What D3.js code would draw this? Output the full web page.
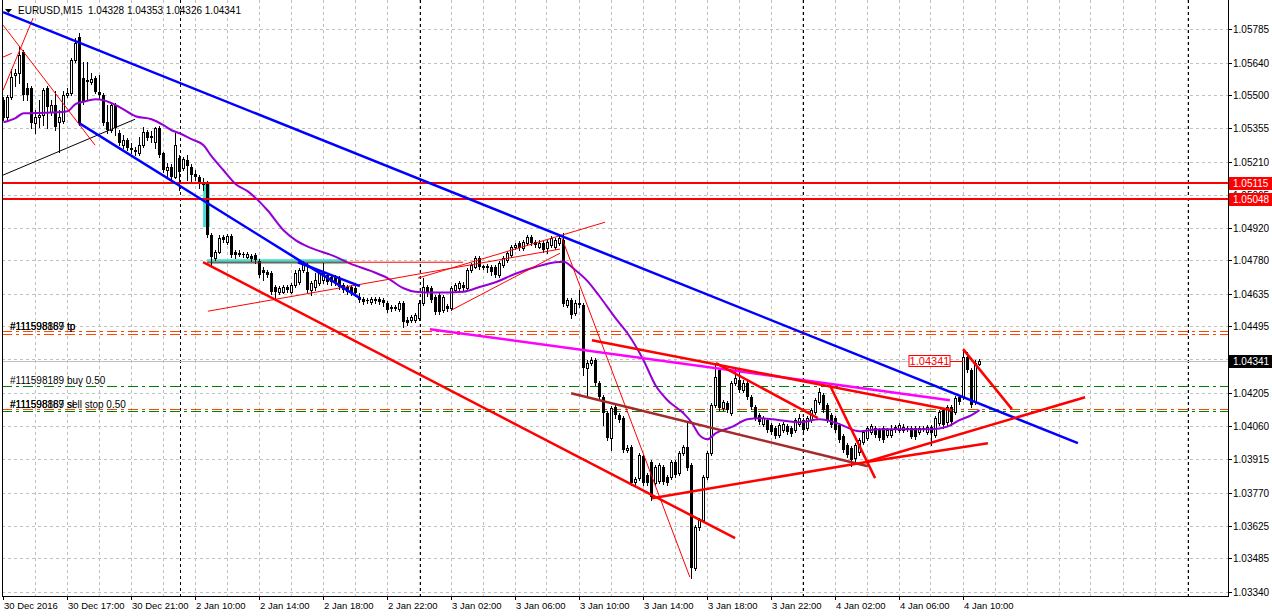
<!DOCTYPE html>
<html><head><meta charset="utf-8">
<script src="https://cdn.jsdelivr.net/npm/d3@7"></script>
<style>
body{margin:0;background:#fff}
svg{display:block}
text{font-family:"Liberation Sans",Arial,sans-serif;font-size:10px;fill:#000}
</style>
</head><body>
<svg id="chart" width="1272" height="616"></svg>
<script>
// ---------- DATA ----------
const symbolTitle = "EURUSD,M15  1.04328 1.04353 1.04326 1.04341";
const open = [1.05477,1.05403,1.05490,1.05586,1.05594,1.05686,1.05529,1.05529,1.05377,1.05403,1.05412,1.05529,1.05425,1.05455,1.05381,1.05386,1.05499,1.05507,1.05651,1.05751,
1.05573,1.05560,1.05555,1.05573,1.05512,1.05499,1.05381,1.05346,1.05455,1.05333,1.05281,1.05303,1.05268,1.05259,1.05246,1.05281,1.05338,1.05316,1.05294,1.05355,
1.05246,1.05172,1.05186,1.05142,1.05225,1.05181,1.05216,1.05186,1.05155,1.05142,1.05120,1.05120,1.04890,1.04790,1.04816,1.04881,1.04859,1.04885,1.04816,1.04807,
1.04807,1.04794,1.04798,1.04803,1.04777,1.04737,1.04729,1.04724,1.04664,1.04642,1.04642,1.04664,1.04642,1.04672,1.04685,1.04737,1.04729,1.04650,1.04664,1.04681,
1.04694,1.04716,1.04707,1.04707,1.04703,1.04672,1.04664,1.04664,1.04659,1.04620,1.04611,1.04607,1.04598,1.04611,1.04611,1.04607,1.04594,1.04577,1.04572,1.04568,
1.04594,1.04520,1.04520,1.04520,1.04529,1.04594,1.04664,1.04659,1.04620,1.04629,1.04564,1.04581,1.04572,1.04650,1.04659,1.04672,1.04659,1.04737,1.04751,1.04790,
1.04751,1.04755,1.04751,1.04751,1.04716,1.04759,1.04781,1.04803,1.04838,1.04855,1.04833,1.04855,1.04881,1.04859,1.04838,1.04855,1.04833,1.04846,1.04838,1.04855,
1.04868,1.04585,1.04607,1.04550,1.04594,1.04585,1.04311,1.04333,1.04346,1.04246,1.04185,1.04115,1.04007,1.04142,1.04107,1.04094,1.03955,1.03968,1.03815,1.03833,
1.03928,1.03846,1.03902,1.03811,1.03820,1.03881,1.03837,1.03837,1.03902,1.03854,1.03941,1.03968,1.03889,1.03441,1.03620,1.03650,1.03837,1.03941,1.04150,1.04302,
1.04137,1.04159,1.04115,1.04246,1.04259,1.04215,1.04246,1.04185,1.04142,1.04107,1.04068,1.04085,1.04063,1.04050,1.04020,1.04042,1.04059,1.04050,1.04042,1.04068,
1.04085,1.04050,1.04085,1.04120,1.04163,1.04194,1.04150,1.04107,1.04094,1.04063,1.04015,1.03976,1.03963,1.03920,1.03946,1.03989,1.04007,1.04033,1.04050,1.04042,
1.04050,1.04020,1.04020,1.04050,1.04042,1.04042,1.04046,1.04050,1.04050,1.04033,1.04046,1.04033,1.04055,1.04020,1.04072,1.04129,1.04076,1.04142,1.04120,1.04185,
1.04185,1.04359,1.04302,1.04163,1.04328];
const high = [1.05490,1.05499,1.05612,1.05612,1.05712,1.05694,1.05551,1.05538,1.05433,1.05477,1.05529,1.05538,1.05477,1.05516,1.05433,1.05516,1.05529,1.05660,1.05747,1.05768,
1.05642,1.05642,1.05594,1.05581,1.05586,1.05507,1.05455,1.05464,1.05464,1.05346,1.05325,1.05312,1.05290,1.05273,1.05316,1.05360,1.05346,1.05342,1.05360,1.05364,
1.05251,1.05203,1.05199,1.05333,1.05238,1.05229,1.05238,1.05199,1.05172,1.05151,1.05138,1.05125,1.04898,1.04824,1.04890,1.04890,1.04894,1.04894,1.04824,1.04824,
1.04816,1.04816,1.04807,1.04811,1.04785,1.04751,1.04737,1.04733,1.04672,1.04668,1.04672,1.04672,1.04681,1.04737,1.04746,1.04777,1.04768,1.04690,1.04724,1.04733,
1.04768,1.04724,1.04716,1.04716,1.04711,1.04681,1.04672,1.04672,1.04668,1.04637,1.04620,1.04616,1.04620,1.04620,1.04620,1.04616,1.04603,1.04585,1.04585,1.04603,
1.04603,1.04533,1.04542,1.04550,1.04607,1.04703,1.04672,1.04668,1.04629,1.04637,1.04629,1.04590,1.04668,1.04681,1.04690,1.04685,1.04746,1.04768,1.04798,1.04798,
1.04759,1.04764,1.04759,1.04759,1.04777,1.04798,1.04820,1.04846,1.04855,1.04864,1.04868,1.04890,1.04890,1.04868,1.04868,1.04864,1.04868,1.04885,1.04877,1.04885,
1.04898,1.04616,1.04616,1.04607,1.04650,1.04594,1.04346,1.04359,1.04355,1.04255,1.04194,1.04124,1.04146,1.04150,1.04115,1.04102,1.03976,1.03976,1.03837,1.03941,
1.03937,1.03854,1.03911,1.03889,1.03898,1.03889,1.03846,1.03911,1.03911,1.03950,1.03976,1.04072,1.03898,1.03628,1.03659,1.03846,1.03950,1.04159,1.04324,1.04311,
1.04172,1.04168,1.04255,1.04311,1.04311,1.04259,1.04255,1.04194,1.04150,1.04115,1.04102,1.04094,1.04072,1.04059,1.04072,1.04076,1.04068,1.04059,1.04094,1.04111,
1.04094,1.04102,1.04137,1.04181,1.04224,1.04202,1.04159,1.04115,1.04102,1.04072,1.04024,1.03985,1.03972,1.03985,1.04007,1.04042,1.04059,1.04068,1.04059,1.04050,
1.04059,1.04050,1.04063,1.04063,1.04072,1.04068,1.04059,1.04059,1.04059,1.04059,1.04059,1.04063,1.04063,1.04102,1.04129,1.04137,1.04150,1.04150,1.04189,1.04194,
1.04394,1.04381,1.04311,1.04346,1.04353];
const low = [1.05390,1.05390,1.05481,1.05538,1.05551,1.05477,1.05477,1.05355,1.05333,1.05360,1.05368,1.05355,1.05412,1.05346,1.05251,1.05377,1.05490,1.05499,1.05642,1.05368,
1.05460,1.05477,1.05547,1.05507,1.05486,1.05368,1.05333,1.05338,1.05325,1.05281,1.05268,1.05259,1.05246,1.05238,1.05238,1.05273,1.05303,1.05294,1.05268,1.05229,
1.05164,1.05142,1.05133,1.05138,1.05085,1.05172,1.05129,1.05120,1.05129,1.05094,1.05085,1.04881,1.04759,1.04781,1.04811,1.04859,1.04851,1.04794,1.04790,1.04798,
1.04794,1.04790,1.04777,1.04768,1.04707,1.04694,1.04707,1.04633,1.04607,1.04633,1.04637,1.04642,1.04637,1.04664,1.04677,1.04729,1.04642,1.04629,1.04650,1.04672,
1.04681,1.04677,1.04672,1.04672,1.04655,1.04642,1.04633,1.04629,1.04624,1.04598,1.04590,1.04594,1.04590,1.04594,1.04590,1.04581,1.04555,1.04559,1.04563,1.04559,
1.04490,1.04498,1.04511,1.04511,1.04520,1.04585,1.04624,1.04598,1.04546,1.04546,1.04555,1.04559,1.04563,1.04642,1.04650,1.04650,1.04650,1.04729,1.04746,1.04742,
1.04742,1.04729,1.04716,1.04707,1.04707,1.04751,1.04772,1.04794,1.04829,1.04825,1.04825,1.04846,1.04846,1.04838,1.04833,1.04816,1.04811,1.04838,1.04829,1.04846,
1.04581,1.04577,1.04529,1.04542,1.04577,1.04281,1.04194,1.04324,1.04237,1.04176,1.04063,1.03998,1.03955,1.04094,1.04076,1.03946,1.03946,1.03802,1.03802,1.03824,
1.03802,1.03802,1.03737,1.03802,1.03811,1.03807,1.03802,1.03828,1.03837,1.03846,1.03933,1.03868,1.03398,1.03433,1.03607,1.03641,1.03828,1.03933,1.04142,1.04129,
1.04129,1.04120,1.04107,1.04237,1.04207,1.04207,1.04176,1.04133,1.04085,1.04068,1.04059,1.04033,1.04024,1.04007,1.04011,1.04033,1.04024,1.04015,1.04033,1.04059,
1.04033,1.04042,1.04076,1.04111,1.04155,1.04120,1.04076,1.04055,1.04033,1.03989,1.03946,1.03924,1.03885,1.03902,1.03933,1.03981,1.03998,1.04024,1.04011,1.03998,
1.03989,1.04011,1.04011,1.04033,1.04033,1.04033,1.04037,1.04007,1.04002,1.04024,1.04037,1.04024,1.03976,1.04011,1.04063,1.04050,1.04063,1.04063,1.04111,1.04155,
1.04176,1.04294,1.04142,1.04155,1.04326];
const close = [1.05399,1.05490,1.05577,1.05594,1.05673,1.05499,1.05499,1.05377,1.05403,1.05412,1.05520,1.05447,1.05455,1.05360,1.05403,1.05499,1.05507,1.05651,1.05725,1.05377,
1.05468,1.05564,1.05568,1.05512,1.05499,1.05377,1.05346,1.05455,1.05355,1.05290,1.05303,1.05268,1.05259,1.05251,1.05281,1.05338,1.05312,1.05320,1.05355,1.05238,
1.05172,1.05186,1.05142,1.05281,1.05164,1.05220,1.05190,1.05151,1.05142,1.05116,1.05107,1.04890,1.04794,1.04816,1.04877,1.04868,1.04885,1.04803,1.04803,1.04811,
1.04803,1.04807,1.04785,1.04781,1.04716,1.04724,1.04716,1.04642,1.04642,1.04659,1.04664,1.04650,1.04672,1.04724,1.04737,1.04768,1.04650,1.04681,1.04694,1.04724,
1.04724,1.04685,1.04685,1.04681,1.04664,1.04650,1.04642,1.04637,1.04637,1.04607,1.04598,1.04603,1.04611,1.04603,1.04598,1.04594,1.04563,1.04568,1.04577,1.04594,
1.04511,1.04507,1.04533,1.04542,1.04594,1.04664,1.04642,1.04607,1.04555,1.04555,1.04620,1.04568,1.04659,1.04672,1.04681,1.04659,1.04737,1.04759,1.04790,1.04751,
1.04755,1.04746,1.04729,1.04716,1.04768,1.04790,1.04811,1.04838,1.04846,1.04833,1.04859,1.04881,1.04855,1.04846,1.04855,1.04825,1.04859,1.04877,1.04868,1.04877,
1.04590,1.04607,1.04542,1.04594,1.04585,1.04311,1.04333,1.04346,1.04246,1.04185,1.04115,1.04007,1.04137,1.04107,1.04085,1.03955,1.03963,1.03811,1.03828,1.03933,
1.03811,1.03811,1.03750,1.03881,1.03889,1.03815,1.03811,1.03902,1.03846,1.03941,1.03968,1.03876,1.03441,1.03620,1.03650,1.03837,1.03941,1.04150,1.04272,1.04137,
1.04163,1.04129,1.04246,1.04268,1.04215,1.04246,1.04185,1.04142,1.04094,1.04076,1.04094,1.04042,1.04033,1.04015,1.04063,1.04068,1.04033,1.04024,1.04085,1.04094,
1.04042,1.04094,1.04129,1.04172,1.04207,1.04129,1.04085,1.04063,1.04042,1.03998,1.03955,1.03933,1.03911,1.03976,1.03998,1.04033,1.04050,1.04059,1.04020,1.04007,
1.03998,1.04042,1.04042,1.04055,1.04063,1.04055,1.04050,1.04011,1.04011,1.04050,1.04050,1.04055,1.04028,1.04094,1.04120,1.04063,1.04142,1.04076,1.04181,1.04163,
1.04359,1.04302,1.04150,1.04333,1.04341];

const timeTickBars = [0,16,32,48,64,80,96,112,128,144,160,176,192,208,224,240];
const timeTickLabels = ["30 Dec 2016","30 Dec 17:00","30 Dec 21:00","2 Jan 10:00","2 Jan 14:00","2 Jan 18:00","2 Jan 22:00","3 Jan 02:00","3 Jan 06:00","3 Jan 10:00","3 Jan 14:00","3 Jan 18:00","3 Jan 22:00","4 Jan 02:00","4 Jan 06:00","4 Jan 10:00"];
const priceTicks = [1.05785,1.05640,1.05500,1.05355,1.05210,1.05065,1.04920,1.04780,1.04635,1.04495,1.04350,1.04205,1.04060,1.03915,1.03770,1.03625,1.03485,1.03340];
const daySeparatorBars = [44,104,200,296];

// moving average, read at sampled bars
const maBars = [0,3,5,12,16,18,20,23,25,27,29,33,37,40,42,44,47,50,52,55,58,61,66,70,73,77,82,87,92,96,100,103,108,115,119,123,128,133,138,140,143,146,149,153,156,160,163,166,170,172,174,176,178,182,186,189,194,199,204,209,214,219,232,236,239,242,244];
const maValues = [1.05381,1.05399,1.05420,1.05423,1.05429,1.05460,1.05470,1.05481,1.05477,1.05464,1.05447,1.05407,1.05394,1.05368,1.05346,1.05333,1.05307,1.05281,1.05233,1.05172,1.05112,1.05081,1.04998,1.04911,1.04868,1.04833,1.04803,1.04764,1.04733,1.04703,1.04659,1.04644,1.04640,1.04644,1.04664,1.04685,1.04722,1.04751,1.04772,1.04774,1.04737,1.04690,1.04624,1.04529,1.04463,1.04346,1.04237,1.04172,1.04115,1.04076,1.04020,1.04002,1.04028,1.04055,1.04089,1.04094,1.04085,1.04076,1.04089,1.04068,1.04037,1.04046,1.04046,1.04057,1.04085,1.04107,1.04129];

// drawn objects: [bar1, price1, bar2, price2]
const blueTrendlines = [[-0.1,1.05860,268.6,1.03985],[18.9,1.05377,89.1,1.04616],[73.6,1.04772,89.1,1.04668]];
const redThickTrendlines = [[49.9,1.04772,182.9,1.03572],[147.1,1.04433,237.1,1.04128],[162.1,1.03746,215.4,1.03902],[215.4,1.03902,270.4,1.04185],[215.4,1.03902,246.1,1.03985],[178.1,1.04333,203.6,1.04094],[206.6,1.04237,217.9,1.03833],[239.9,1.04394,252.1,1.04133]];
const redThinTrendlines = [[139.6,1.04877,171.6,1.03402],[51.1,1.04559,139.1,1.04829],[103.6,1.04703,150.4,1.04946],[111.9,1.04563,139.1,1.04811],[50.9,1.04772,114.9,1.04772],[-0.1,1.05803,22.9,1.05281],[-0.1,1.05520,7.4,1.05834],[-0.1,1.05664,2.1,1.05681]];
const brownTrendlines = [[141.9,1.04202,216.1,1.03885]];
const magentaTrendlines = [[106.6,1.04481,236.6,1.04172]];
const blackTrendlines = [[-0.1,1.05151,32.9,1.05394]];
const cyanRectangles = [[49.9,1.05120,51.6,1.04925],[50.9,1.04785,85.9,1.04764]];
const redLevels = [1.05115,1.05048];
const tpLevels = [1.04472,1.04459];
const buyLevel = 1.04235;
const sellStopLevel = 1.04135;
const slLevel = 1.04126;
const bidPrice = 1.04341;
const priceLabelBar = 240;
const tpLabels = ["#111598189 tp","#111598867 tp"];
const buyLabel = "#111598189 buy 0.50";
const sellLabels = ["#111598189 sl","#111598867 sell stop 0.50"];

// ---------- DRAW ----------
const W = 1272, H = 616;
const plotL = 2, plotR = 1228, plotB = 596;
const svg = d3.select("#chart");
const x = d3.scaleLinear().domain([0, 300]).range([3.5, 1203.5]);
const y = d3.scaleLinear().domain([1.03340, 1.05785]).range([591.5, 29.3]);
const fmt = d3.format(".5f");

svg.append("defs").append("clipPath").attr("id","plot")
  .append("rect").attr("x",plotL).attr("y",0).attr("width",plotR-plotL).attr("height",plotB);

const g = svg.append("g").attr("clip-path","url(#plot)");

// grid
const gridBars = d3.range(8, 304, 8);
g.append("g").selectAll("line").data(gridBars).join("line")
  .attr("x1",d=>Math.round(x(d))-0.5).attr("x2",d=>Math.round(x(d))-0.5)
  .attr("y1",0).attr("y2",plotB)
  .style("stroke","#c0c0c0").attr("stroke-dasharray","3,3");
g.append("g").selectAll("line").data(priceTicks).join("line")
  .attr("x1",plotL).attr("x2",plotR)
  .attr("y1",d=>Math.round(y(d))+0.5).attr("y2",d=>Math.round(y(d))+0.5)
  .style("stroke","#c0c0c0").attr("stroke-dasharray","3,3");

// day separators
g.append("g").selectAll("line").data(daySeparatorBars).join("line")
  .attr("x1",d=>Math.round(x(d))+0.5).attr("x2",d=>Math.round(x(d))+0.5)
  .attr("y1",0).attr("y2",plotB)
  .style("stroke","#000").attr("stroke-dasharray","3,3");

// rectangles (background)
g.append("g").selectAll("rect").data(cyanRectangles).join("rect")
  .attr("x",d=>x(d[0])).attr("width",d=>x(d[2])-x(d[0]))
  .attr("y",d=>y(d[1])).attr("height",d=>y(d[3])-y(d[1]))
  .style("fill","#40e0d0");

// order lines
function hline(p, color, dash){
  const l = g.append("line").attr("x1",plotL).attr("x2",plotR)
   .attr("y1",Math.round(y(p))+0.5).attr("y2",Math.round(y(p))+0.5)
   .style("stroke",color).style("stroke-width",1);
  if (dash) l.attr("stroke-dasharray",dash);
}
tpLevels.forEach(p=>hline(p,"#ff4500","10,4,3,4"));
hline(buyLevel,"#008000","10,4,3,4");
hline(sellStopLevel,"#ff4500","10,4,3,4");
hline(slLevel,"#008000","10,4,3,4");
hline(bidPrice,"#c0c0c0",null);

// order labels
const lab = g.append("g");
tpLabels.forEach(t=>lab.append("text").attr("x",10).attr("y",Math.round(y(tpLevels[0]))-1).text(t));
lab.append("text").attr("x",10).attr("y",Math.round(y(buyLevel))-2).text(buyLabel);
sellLabels.forEach(t=>lab.append("text").attr("x",10).attr("y",Math.round(y(sellStopLevel))-1).text(t));

// candles
const idx = d3.range(close.length);
const cg = g.append("g").attr("shape-rendering","crispEdges");
cg.selectAll("line.w").data(idx).join("line").attr("class","w")
  .attr("x1",i=>Math.floor(x(i))+0.5).attr("x2",i=>Math.floor(x(i))+0.5)
  .attr("y1",i=>Math.round(y(high[i]))).attr("y2",i=>Math.round(y(low[i]))+1)
  .style("stroke","#000");
cg.selectAll("rect.b").data(idx).join("rect").attr("class","b")
  .attr("x",i=> close[i]>open[i] ? Math.floor(x(i))-0.5 : Math.floor(x(i))-1)
  .attr("width",i=> close[i]>open[i] ? 2 : 3)
  .attr("y",i=>{const t=Math.round(y(Math.max(open[i],close[i]))); return close[i]>open[i]? t+0.5 : t;})
  .attr("height",i=>Math.max(1, Math.abs(Math.round(y(open[i]))-Math.round(y(close[i])))))
  .style("fill",i=> close[i]>open[i] ? "#fff" : "#000")
  .style("stroke",i=> close[i]>open[i] ? "#000" : "none");

// horizontal red levels (drawn objects)
g.append("g").attr("shape-rendering","crispEdges").selectAll("rect").data(redLevels).join("rect")
  .attr("x",plotL).attr("width",plotR-plotL)
  .attr("y",d=>Math.round(y(d))-1).attr("height",2)
  .style("fill","#ff0000");

// moving average
g.append("path").datum(maBars.map((b,k)=>[b,maValues[k]]))
  .attr("d", d3.line().x(d=>x(d[0])).y(d=>y(d[1])).curve(d3.curveMonotoneX))
  .style("fill","none").style("stroke","#9400d3").style("stroke-width",2);

// trendlines
function segs(data, color, w){
  g.append("g").selectAll("line").data(data).join("line")
   .attr("x1",d=>x(d[0])).attr("y1",d=>y(d[1]))
   .attr("x2",d=>x(d[2])).attr("y2",d=>y(d[3]))
   .style("stroke",color).style("stroke-width",w);
}
segs(blackTrendlines,"#000",1);
segs(redThinTrendlines,"#ff0000",1);
segs(brownTrendlines,"#a52a2a",2.5);
segs(magentaTrendlines,"#ff00ff",2.5);
segs(blueTrendlines,"#0000ff",2.5);
segs(redThickTrendlines,"#ff0000",2.5);

// price label object
const plx = x(priceLabelBar), ply = Math.round(y(bidPrice));
g.append("line").attr("x1",plx-14).attr("x2",plx).attr("y1",ply+0.5).attr("y2",ply+0.5).style("stroke","#ff0000");
g.append("rect").attr("x",plx-54.5).attr("y",ply-5.5).attr("width",41).attr("height",11)
  .style("fill","#fff").style("stroke","#ff0000");
g.append("text").attr("x",plx-34).attr("y",ply+4).attr("text-anchor","middle")
  .style("font-size","11px").style("fill","#ff0000").text(fmt(bidPrice));

// frame
svg.append("g").attr("shape-rendering","crispEdges").call(s=>{
  s.append("line").attr("x1",plotL+0.5).attr("x2",plotL+0.5).attr("y1",0).attr("y2",plotB).style("stroke","#000");
  s.append("line").attr("x1",plotR+0.5).attr("x2",plotR+0.5).attr("y1",0).attr("y2",plotB+1).style("stroke","#000");
  s.append("line").attr("x1",plotL).attr("x2",plotR+1).attr("y1",plotB+0.5).attr("y2",plotB+0.5).style("stroke","#000");
});

// price axis
const pa = svg.append("g");
pa.selectAll("line").data(priceTicks).join("line")
  .attr("x1",plotR).attr("x2",plotR+4)
  .attr("y1",d=>Math.round(y(d))+0.5).attr("y2",d=>Math.round(y(d))+0.5)
  .style("stroke","#000").attr("shape-rendering","crispEdges");
pa.selectAll("text").data(priceTicks).join("text")
  .attr("x",1233).attr("y",d=>Math.round(y(d))+4).text(d=>fmt(d));

// price tags
function tag(p, bg){
  const yy = Math.round(y(p));
  pa.append("rect").attr("x",plotR+1).attr("y",yy-6).attr("width",W-plotR-1).attr("height",13).style("fill",bg);
  pa.append("text").attr("x",1233).attr("y",yy+4).style("fill","#fff").text(fmt(p));
}
redLevels.forEach(p=>tag(p,"#ff0000"));
tag(bidPrice,"#000");

// time axis
const ta = svg.append("g");
ta.selectAll("line").data(timeTickBars).join("line")
  .attr("x1",d=>Math.floor(x(d))+0.5).attr("x2",d=>Math.floor(x(d))+0.5)
  .attr("y1",plotB).attr("y2",plotB+4).style("stroke","#000").attr("shape-rendering","crispEdges");
ta.selectAll("text").data(timeTickBars).join("text")
  .attr("x",d=>Math.floor(x(d))+1).attr("y",609).style("font-size","9.5px")
  .text((d,k)=>timeTickLabels[k]);

// title
svg.append("path").attr("d","M5,9 L12,9 L8.5,13 Z").style("fill","#000");
svg.append("text").attr("x",18).attr("y",14).style("font-size","10px").attr("xml:space","preserve").text(symbolTitle);
</script>
</body></html>
